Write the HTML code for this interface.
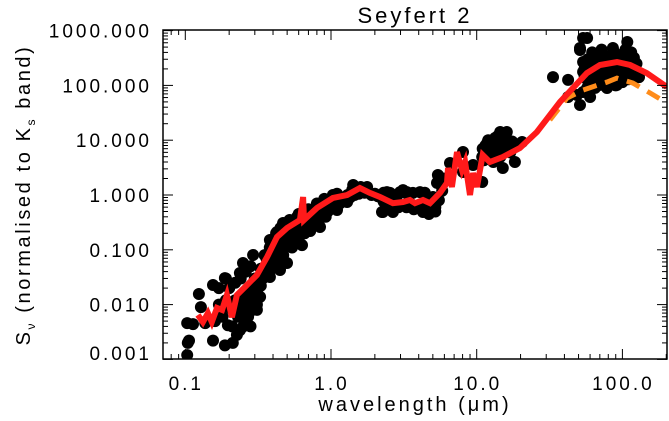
<!DOCTYPE html>
<html><head><meta charset="utf-8">
<style>
html,body{margin:0;padding:0;background:#fff;}
svg{display:block;font-family:"Liberation Sans",sans-serif;}
</style></head>
<body>
<svg id="chart" width="669" height="421" viewBox="0 0 669 421" xmlns="http://www.w3.org/2000/svg">
<text x="415" y="23" text-anchor="middle" font-size="22" letter-spacing="3">Seyfert 2</text>
<text x="415" y="411" text-anchor="middle" font-size="20" letter-spacing="3">wavelength (μm)</text>
<text transform="translate(30,195) rotate(-90)" text-anchor="middle" font-size="20" letter-spacing="2.6">S<tspan font-size="12" dy="5">ν</tspan><tspan dy="-5"> (normalised to K</tspan><tspan font-size="12" dy="5">s</tspan><tspan dy="-5"> band)</tspan></text>
<g id="marks"></g>
<g id="axes"></g>
</svg>
<script>
const xTickValues=[0.1,1,10,100];
const xTickLabels=["0.1","1.0","10.0","100.0"];
const yTickValues=[0.001,0.01,0.1,1,10,100,1000];
const yTickLabels=["0.001","0.010","0.100","1.000","10.000","100.000","1000.000"];
const pointWavelength=[0.103,0.104,0.106,0.103,0.113,0.124,0.128,0.137,0.155,0.187,0.212,0.155,0.187,0.196,0.237,0.249,0.292,0.326,0.310,0.265,0.237,0.226,0.381,0.426,0.469,0.499,0.447,0.381,0.326,0.341,0.585,0.632,0.718,0.841,0.939,1.03,1.10,1.29,1.42,1.77,2.24,2.66,2.54,2.98,3.32,
2.27,2.42,2.98,3.12,3.65,4.08,4.28,4.56,4.78,5.01,5.34,5.42,6.56,8.05,8.05,9.44,10.9,10.9,11.8,13.4,16.1,16.9,15.1,18.3,20.5,14.5,17.5,
14.5,16.1,33.4,42.4,42.4,51.2,51.2,57.2,53.7,51.2,53.7,53.7,60.0,66.9,70.2,78.4,82.2,86.1,96.3,108,113,118,126,70.2,78.4,91.8,62.8,57.2,60.0,48.8,53.7,108,86.1,130,91.8,100,120,
0.22,0.24,0.26,0.27,0.28,0.3,0.3,0.32,0.33,0.35,0.36,0.38,0.4,0.42,0.44,0.46,0.48,0.5,0.53,0.55,0.58,0.6,0.65,0.68,0.7,0.75,0.8,0.85,0.9,0.95,1.0,1.1,1.2,1.3,1.5,1.6,1.8,2.0,2.2,2.5,2.8,3.0,3.5,4.0,4.5,4.7,5.2,5.5,0.2,0.18,0.16,0.21,0.23,0.25,0.27,0.19,0.17,0.29,0.45,0.55,0.42,12,13,14,15,11,12.5,
0.3,0.31,0.33,0.34,0.36,0.37,0.39,0.41,0.43,0.45,0.47,0.49,0.52,0.54,0.57,0.6,0.62,0.66,0.7,0.72,0.78,0.82,0.88,0.92,0.98,1.05,1.15,1.25,1.35,1.45,1.55,1.7,1.9,2.1,2.3,2.6,2.9,3.3,3.7,4.2,4.4,4.9,5.2,5.8,5.7,5.9,
0.35,0.38,0.42,0.47,0.52,0.6,0.7,0.8,0.9,1.1,1.4,1.6,2.3,2.8,3.4,4.4,4.6,
0.2,0.22,0.24,0.26,0.28,0.21,0.23,0.25,0.27,0.29,0.31,0.28,0.17,0.19,
11.5,12,13,14,15,16,12,13,14,17,18,11.2,13.5,
55,60,65,70,75,80,85,90,95,100,105,110,115,120,125,60,65,70,75,80,85,90,95,100,55,58,62,68,72,88,105,115,120,110,65,57];
const pointFlux=[0.0012,0.0020,0.0022,0.0046,0.0044,0.0156,0.0090,0.0046,0.0022,0.0018,0.0020,0.0228,0.0305,0.0042,0.0378,0.0574,0.0804,0.0138,0.0080,0.0059,0.0034,0.0028,0.151,0.211,0.308,0.0574,0.0428,0.0319,0.0248,0.0428,0.397,0.122,0.469,0.261,0.604,1.0,0.532,0.745,1.52,1.40,0.49,0.49,1.09,1.09,1.13,
0.49,1.13,1.13,1.23,1.09,1.13,0.49,0.532,0.657,0.92,1.66,2.32,3.84,6.09,2.63,3.53,1.73,4.94,8.89,11.0,14.1,7.2,3.11,4.0,9.27,4.94,9.45,
14.1,10.1,142,126,61.4,43.9,481,733,733,443,267,176,115,316,102,89.7,155,481,316,620,359,208,155,208,267,208,208,89.7,61.4,66.8,75.8,176,155,142,102,115,130,
0.012,0.008,0.012,0.02,0.015,0.02,0.03,0.03,0.045,0.04,0.07,0.06,0.09,0.08,0.13,0.11,0.17,0.15,0.2,0.17,0.25,0.22,0.3,0.25,0.35,0.3,0.42,0.38,0.55,0.5,0.7,0.75,0.85,1.0,1.1,1.2,1.1,1.05,0.9,0.9,0.8,0.65,0.7,0.6,0.7,0.45,0.6,0.8,0.009,0.006,0.005,0.004,0.006,0.004,0.008,0.012,0.01,0.012,0.25,0.3,0.17,6,8,6,7,7,9,
0.012,0.018,0.022,0.03,0.035,0.05,0.045,0.07,0.06,0.09,0.08,0.12,0.13,0.11,0.18,0.16,0.22,0.2,0.28,0.22,0.35,0.3,0.45,0.4,0.55,0.6,0.7,0.8,0.9,1.0,1.05,1.1,1.0,0.95,0.75,0.6,0.6,0.6,0.55,0.55,0.65,0.55,0.5,1.2,1.5,2.0,
0.08,0.11,0.2,0.3,0.35,0.45,0.55,0.7,0.85,1.05,1.25,1.4,1.1,1.0,1.0,1.1,0.8,
0.02,0.025,0.03,0.04,0.05,0.008,0.01,0.015,0.006,0.008,0.01,0.004,0.02,0.03,
8,10,9,12,10,9,5,4,4.5,6,8,4.3,6.5,
150,180,250,300,350,220,280,250,200,300,250,200,280,220,250,120,150,130,180,160,120,100,120,160,200,300,400,380,450,400,450,400,320,130,90,130];
const modelWavelength=[0.122,0.132,0.143,0.152,0.165,0.179,0.193,0.209,0.226,0.265,0.31,0.364,0.426,0.499,0.612,0.643,0.653,0.80,1.03,1.29,1.58,1.85,2.17,2.66,3.12,3.48,3.77,4.28,4.78,5.6,6.25,6.35,6.76,7.33,7.93,8.32,9.0,9.44,10.05,11.0,12.3,15.1,19.8,25.9,37.3,57.1,70.2,91.8,113,147,202];
const modelFlux=[0.0065,0.0048,0.0070,0.0048,0.0087,0.008,0.015,0.0059,0.015,0.0228,0.0347,0.074,0.171,0.25,0.35,0.92,0.35,0.58,0.88,1.0,1.34,1.09,0.92,0.71,0.745,0.81,0.71,0.81,0.71,1.09,1.66,3.11,1.40,6.09,2.86,4.0,1.0,2.52,1.40,5.37,4.0,4.94,7.2,14.1,49.8,168,236,267,236,168,93.5];
const dustWavelength=[31.8,41.7,53.8,78.4,91.8,118,155,202];
const dustFlux=[23.4,58.9,82.4,115,136,110,72.6,47.7];

const NS="http://www.w3.org/2000/svg";
const L=163,R=667,T=30,B=359;
const xPx=v=>331+145.7*Math.log10(v);
const yPx=v=>195-54.8*Math.log10(v);
function mk(tag,attrs,parent){const e=document.createElementNS(NS,tag);for(const k in attrs)e.setAttribute(k,attrs[k]);parent.appendChild(e);return e;}
const marks=document.getElementById('marks'),axes=document.getElementById('axes');
const clip=mk('clipPath',{id:'pc'},marks);mk('rect',{x:L,y:T,width:R-L,height:B-T},clip);
const pg=mk('g',{'clip-path':'url(#pc)'},marks);


for(let i=0;i<pointWavelength.length;i++){
  const c=mk('circle',{cx:xPx(pointWavelength[i]).toFixed(1),cy:yPx(pointFlux[i]).toFixed(1),r:6,fill:'#000'},pg);
  
  
}
const dust=mk('polyline',{points:dustWavelength.map((w,i)=>xPx(w).toFixed(1)+','+yPx(dustFlux[i]).toFixed(1)).join(' '),fill:'none',stroke:'#ff8c1a','stroke-width':5,'stroke-dasharray':'14,9'},pg);


const model=mk('polyline',{points:modelWavelength.map((w,i)=>xPx(w).toFixed(1)+','+yPx(modelFlux[i]).toFixed(1)).join(' '),fill:'none',stroke:'#ff1a1a','stroke-width':6,'stroke-linejoin':'miter'},pg);


const frame=mk('rect',{x:L,y:T,width:R-L,height:B-T,fill:'none',stroke:'#000','stroke-width':1.5},axes);


for(let d=-2;d<=2;d++){for(let m=1;m<=9;m++){const v=m*Math.pow(10,d);const x=xPx(v);if(x<L||x>R)continue;const len=m===1?10:5;
 mk('line',{x1:x,y1:B,x2:x,y2:B-len,stroke:'#000','stroke-width':1},axes);
 mk('line',{x1:x,y1:T,x2:x,y2:T+len,stroke:'#000','stroke-width':1},axes);}}
xTickValues.forEach((v,i)=>{const t=mk('text',{x:xPx(v)+1,y:390,'text-anchor':'middle','font-size':19,'letter-spacing':3},axes);t.textContent=xTickLabels[i];
 
 });
for(let d=-3;d<=3;d++){for(let m=1;m<=9;m++){const v=m*Math.pow(10,d);const y=yPx(v);if(y<T-0.5||y>B+0.5)continue;const len=m===1?10:5;
 mk('line',{x1:L,y1:y,x2:L+len,y2:y,stroke:'#000','stroke-width':1},axes);
 mk('line',{x1:R,y1:y,x2:R-len,y2:y,stroke:'#000','stroke-width':1},axes);}}
yTickValues.forEach((v,i)=>{const t=mk('text',{x:152,y:Math.min(yPx(v)+7,360),'text-anchor':'end','font-size':19,'letter-spacing':3},axes);t.textContent=yTickLabels[i];
 
 });
</script>
</body></html>
